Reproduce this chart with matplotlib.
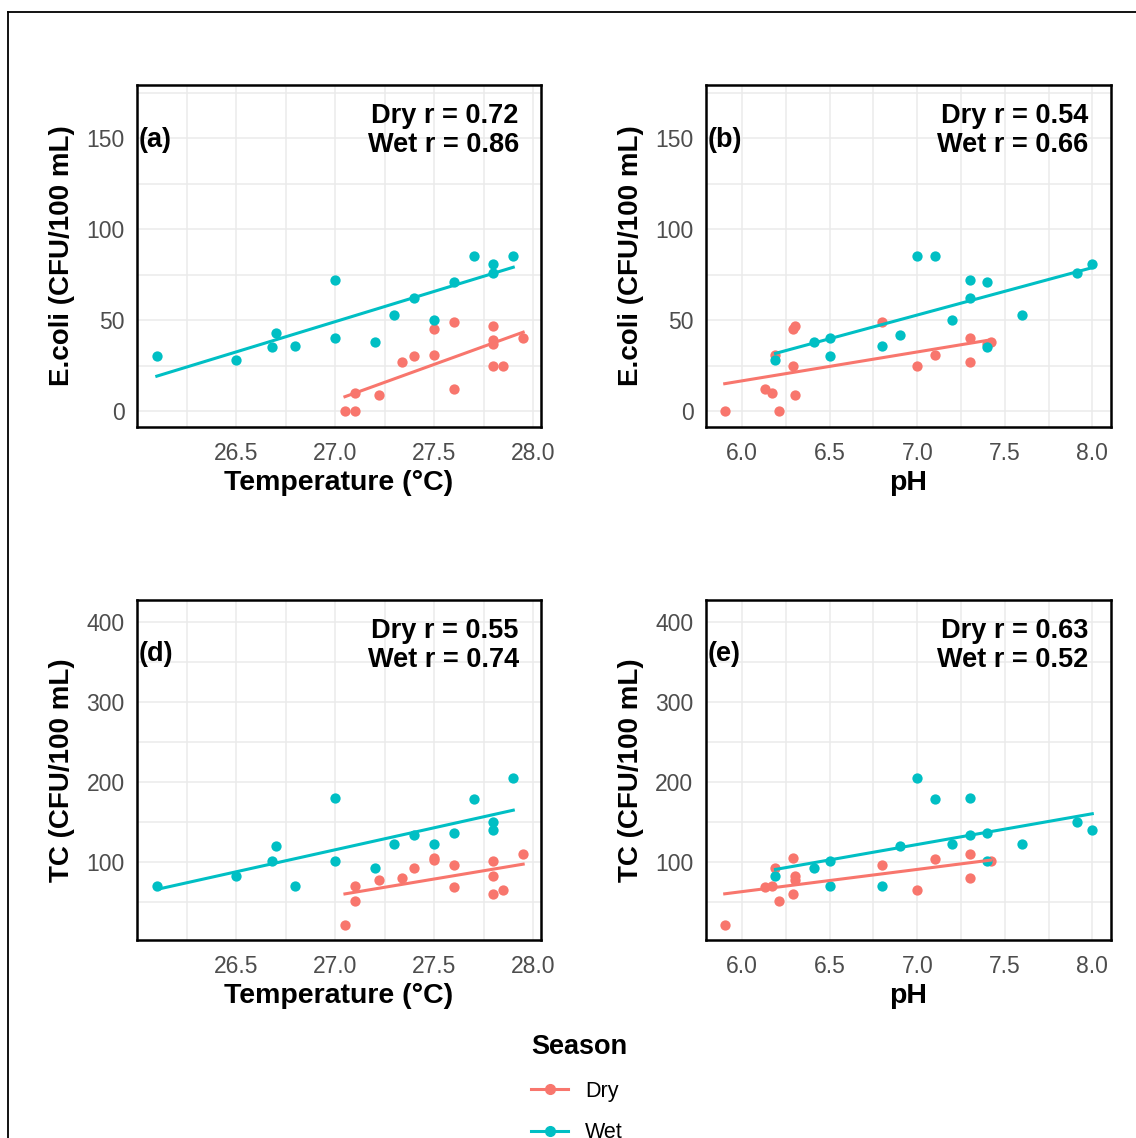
import numpy as np
import matplotlib
matplotlib.use("Agg")
import matplotlib.pyplot as plt
from matplotlib.lines import Line2D
from matplotlib.ticker import MultipleLocator, FixedLocator

plt.rcParams['font.family'] = ['Liberation Sans', 'DejaVu Sans']

DRY = '#F8766D'
WET = '#00BFC4'

# panel (a): E.coli vs temperature
temp_wet = [26.1, 26.5, 26.68, 26.7, 26.8, 27.0, 27.0, 27.2, 27.3, 27.4, 27.5, 27.6, 27.7, 27.8, 27.8, 27.9]
ecoli_temp_wet = [30, 28, 35, 43, 36, 72, 40, 38, 53, 62, 50, 71, 85, 81, 76, 85]
temp_dry = [27.05, 27.1, 27.1, 27.22, 27.34, 27.4, 27.5, 27.5, 27.6, 27.6, 27.8, 27.8, 27.8, 27.8, 27.85, 27.95]
ecoli_temp_dry = [0, 0, 10, 9, 27, 30, 45, 31, 49, 12, 47, 39, 37, 25, 25, 40]

# panel (b): E.coli vs pH
ph_wet = [6.19, 6.41, 6.5, 6.5, 6.8, 6.9, 7.0, 7.1, 7.2, 7.3, 7.3, 7.4, 7.4, 7.6, 7.91, 8.0]
ecoli_ph_wet = [28, 38, 40, 30, 36, 42, 85, 85, 50, 72, 62, 71, 35, 53, 76, 81]
ph_dry = [5.9, 6.13, 6.17, 6.19, 6.21, 6.29, 6.3, 6.29, 6.3, 6.8, 7.0, 7.1, 7.3, 7.3, 7.42, 7.4]
ecoli_ph_dry = [0, 12, 10, 31, 0, 45, 47, 25, 9, 49, 25, 31, 40, 27, 38, 37]

# panel (d): TC vs temperature
tc_temp_wet = [70, 82, 101, 120, 70, 180, 101, 92, 122, 133, 122, 136, 178, 150, 140, 204]
temp_dry_tc = [27.05, 27.1, 27.1, 27.22, 27.34, 27.4, 27.5, 27.5, 27.6, 27.6, 27.8, 27.8, 27.8, 27.85, 27.95]
tc_temp_dry = [21, 70, 51, 77, 79, 92, 105, 102, 96, 68, 101, 82, 60, 65, 110]

# panel (e): TC vs pH
tc_ph_wet = [82, 92, 101, 70, 70, 120, 204, 178, 122, 180, 133, 136, 101, 122, 150, 140]
ph_dry_tc = [5.9, 6.13, 6.17, 6.19, 6.21, 6.29, 6.3, 6.3, 6.29, 6.8, 7.0, 7.1, 7.3, 7.3, 7.42]
tc_ph_dry = [21, 68, 70, 92, 51, 105, 82, 77, 60, 96, 65, 103, 110, 79, 101]

temp_ticks = [26.5, 27.0, 27.5, 28.0]
ph_ticks = [6.0, 6.5, 7.0, 7.5, 8.0]
ecoli_ticks = [0, 50, 100, 150]
tc_ticks = [100, 200, 300, 400]

panel_labels = ['(a)', '(b)', '(d)', '(e)']
r_text = [('0.72', '0.86'), ('0.54', '0.66'), ('0.55', '0.74'), ('0.63', '0.52')]


def panel(ax, xd, yd, xw, yw, label, rs, xlim, ylim, xticks, yticks, xlabel, ylabel):
    ax.set_xlim(*xlim)
    ax.set_ylim(*ylim)
    ax.xaxis.set_major_locator(FixedLocator(xticks))
    ax.yaxis.set_major_locator(FixedLocator(yticks))
    ax.xaxis.set_minor_locator(MultipleLocator((xticks[1] - xticks[0]) / 2))
    ax.yaxis.set_minor_locator(MultipleLocator((yticks[1] - yticks[0]) / 2))
    ax.set_xticklabels([f'{v:.1f}' for v in xticks])
    ax.set_yticklabels([f'{v:d}' for v in yticks])
    ax.grid(which='both', color='#EBEBEB', lw=1.1, zorder=0)
    ax.set_axisbelow(True)
    ax.tick_params(which='both', length=0)
    ax.tick_params(axis='x', pad=10.5, labelsize=16.5, labelcolor='#4D4D4D')
    ax.tick_params(axis='y', pad=9, labelsize=16.5, labelcolor='#4D4D4D')
    for s in ax.spines.values():
        s.set_linewidth(1.8)
        s.set_color('black')

    ax.scatter(xd, yd, s=55, color=DRY, zorder=3, linewidths=0)
    ax.scatter(xw, yw, s=55, color=WET, zorder=3, linewidths=0)
    # linear fit per season
    for xs, ys, c in [(xd, yd, DRY), (xw, yw, WET)]:
        k, b = np.polyfit(xs, ys, 1)
        xx = np.array([min(xs), max(xs)])
        ax.plot(xx, k * xx + b, color=c, lw=2.2, zorder=4)

    ax.text(0.003, 0.82, label, transform=ax.transAxes, fontsize=19.5,
            fontweight='bold', ha='left', va='baseline')
    ax.text(0.945, 0.889, f'Dry r = {rs[0]}', transform=ax.transAxes, fontsize=19.5,
            fontweight='bold', ha='right', va='baseline')
    ax.text(0.945, 0.804, f'Wet r = {rs[1]}', transform=ax.transAxes, fontsize=19.5,
            fontweight='bold', ha='right', va='baseline')
    ax.text(0.5, -0.164, xlabel, transform=ax.transAxes, fontsize=20.5,
            fontweight='bold', ha='center', va='center')
    ax.text(-0.186, 0.5, ylabel, transform=ax.transAxes, fontsize=20,
            fontweight='bold', ha='center', va='center', rotation=90)


fig = plt.figure(figsize=(11.36, 11.38), dpi=100)
W, H = 1136, 1138

boxes = [(137, 85, 541, 427), (706, 85, 1111, 427), (137, 600, 541, 940), (706, 600, 1111, 940)]
axes = []
for l, t, r, b in boxes:
    axes.append(fig.add_axes([l / W, 1 - b / H, (r - l) / W, (b - t) / H]))

temp_lim = (26.0, 28.04)
ph_lim = (5.793, 8.107)
temp_lab = 'Temperature (\u00b0C)'

panel(axes[0], temp_dry, ecoli_temp_dry, temp_wet, ecoli_temp_wet, panel_labels[0], r_text[0],
      temp_lim, (-8.8, 179.3), temp_ticks, ecoli_ticks, temp_lab, 'E.coli (CFU/100 mL)')
panel(axes[1], ph_dry, ecoli_ph_dry, ph_wet, ecoli_ph_wet, panel_labels[1], r_text[1],
      ph_lim, (-8.8, 179.3), ph_ticks, ecoli_ticks, 'pH', 'E.coli (CFU/100 mL)')
panel(axes[2], temp_dry_tc, tc_temp_dry, temp_wet, tc_temp_wet, panel_labels[2], r_text[2],
      temp_lim, (2.1, 427), temp_ticks, tc_ticks, temp_lab, 'TC (CFU/100 mL)')
panel(axes[3], ph_dry_tc, tc_ph_dry, ph_wet, tc_ph_wet, panel_labels[3], r_text[3],
      ph_lim, (2.1, 427), ph_ticks, tc_ticks, 'pH', 'TC (CFU/100 mL)')

# legend (bottom entry runs off the page, as in the source figure)
handles = [Line2D([], [], color=DRY, lw=2.2, marker='o', markersize=7),
           Line2D([], [], color=WET, lw=2.2, marker='o', markersize=7)]
leg = fig.legend(handles, ['Dry', 'Wet'], loc='upper left', bbox_to_anchor=(512 / W, 1 - 1015 / H),
                 frameon=False, fontsize=15.5, title='Season', alignment='left',
                 title_fontproperties={'weight': 'bold', 'size': 19.5},
                 handlelength=1.7, handletextpad=0.8, labelspacing=0.95)

# outer frame
fig.add_artist(Line2D([8 / W, 1], [1 - 12 / H, 1 - 12 / H], color='black', lw=1.3))
fig.add_artist(Line2D([8 / W, 8 / W], [0, 1 - 12 / H], color='black', lw=1.3))

fig.savefig('out.png', dpi=100)
